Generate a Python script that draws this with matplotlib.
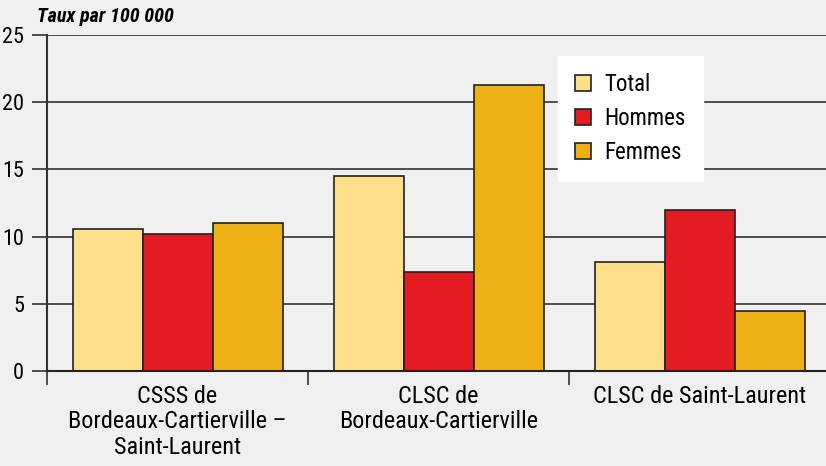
import matplotlib
matplotlib.use("Agg")
import matplotlib.pyplot as plt
from matplotlib import font_manager
import numpy as np

categories = ["CSSS de\nBordeaux-Cartierville –\nSaint-Laurent",
              "CLSC de\nBordeaux-Cartierville",
              "CLSC de Saint-Laurent"]
series_names = ["Total", "Hommes", "Femmes"]
total = [10.6, 14.5, 8.1]
hommes = [10.2, 7.4, 12.0]
femmes = [11.0, 21.3, 4.5]
colors = ["#FFE08A", "#E31B23", "#EEB115"]
yticks = [0, 5, 10, 15, 20, 25]

names = {f.name for f in font_manager.fontManager.ttflist}
fam = "DejaVu Sans"
for cand in ["Roboto Condensed", "Liberation Sans Narrow", "Roboto", "Liberation Sans"]:
    if cand in names:
        fam = cand
        break
plt.rcParams['font.family'] = [fam, 'DejaVu Sans']

bg = "#F0F0F0"
fig = plt.figure(figsize=(8.26, 4.66), dpi=100, facecolor=bg)
ax = fig.add_axes([47/826, 1-371/466, (830-47)/826, (371-35)/466])
ax.set_facecolor(bg)

x = np.arange(len(categories))
w = 70/261
for i, (vals, name, c) in enumerate(zip([total, hommes, femmes], series_names, colors)):
    ax.bar(x + (i-1)*w, vals, width=w, color=c, edgecolor="#222222", linewidth=1.2, label=name, zorder=3)

ax.set_xlim(-0.5, 2.5)
ax.set_ylim(0, 25)
ax.set_yticks(yticks)
ax.yaxis.grid(True, color="#333333", linewidth=1.2, zorder=0)
for s in ["top", "right", "bottom"]:
    ax.spines[s].set_visible(False)
ax.spines["left"].set_color("#333333")
ax.spines["left"].set_linewidth(1.5)
ax.axhline(0, color="#222222", linewidth=1.5, zorder=4, clip_on=False)
ax.tick_params(axis="y", length=11, width=1.2, color="#333333", labelsize=16, pad=5.5)
ax.set_xticks([-0.5, 0.5, 1.5, 2.5])
ax.set_xticklabels([])
ax.tick_params(axis="x", length=10, width=1.2, color="#333333")
for xi, lab in zip(x, categories):
    ax.text(xi, -1.05, lab, ha="center", va="top", fontsize=17.5, linespacing=1.13)

fig.text(37/826, 1-17/466, "Taux par 100 000", fontsize=14.5, fontweight="bold",
         fontstyle="italic", ha="left", va="center")

leg = ax.legend(loc="upper left", bbox_to_anchor=((558-47)/783, (371-56)/336),
                frameon=True, fancybox=False, fontsize=16.5, handlelength=0.68,
                handleheight=0.68, handletextpad=0.6, labelspacing=0.48,
                borderpad=0.75, borderaxespad=0)
leg.get_frame().set_facecolor("white")
leg.get_frame().set_edgecolor("white")
leg.get_frame().set_alpha(1)
leg.set_zorder(5)

fig.savefig("out.png", dpi=100, facecolor=bg)
